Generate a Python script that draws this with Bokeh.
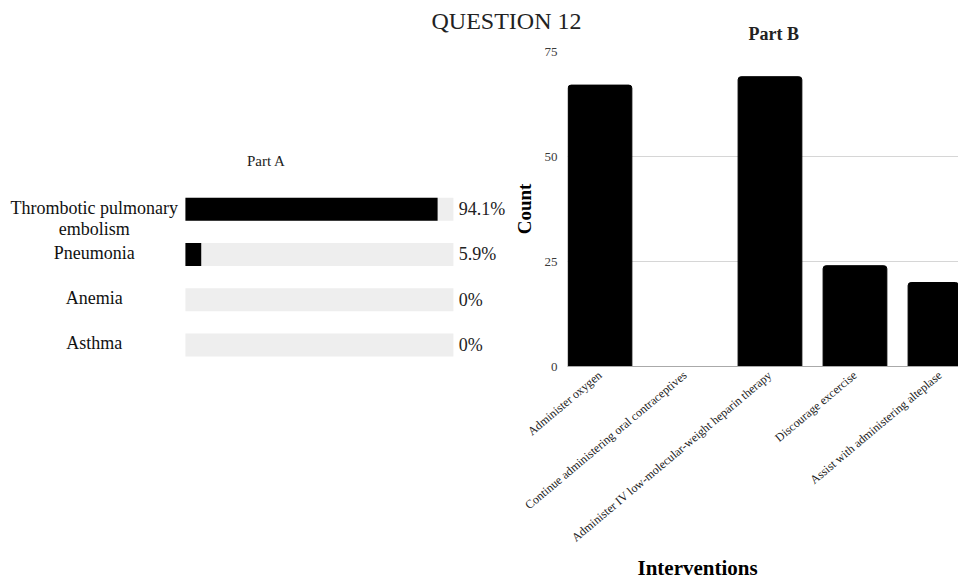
from bokeh.plotting import figure
from bokeh.models import Range1d, FixedTicker, Title, GridBox
from bokeh.core.properties import value
from bokeh.embed import file_html
from bokeh.resources import INLINE

FONT = "Liberation Serif"

# ---------------- data ----------------
title_text = "QUESTION 12"

partA_title = "Part A"
partA_categories = ["Thrombotic pulmonary\nembolism", "Pneumonia", "Anemia", "Asthma"]
partA_percent = [94.1, 5.9, 0, 0]

partB_title = "Part B"
partB_categories = [
    "Administer oxygen",
    "Continue administering oral contraceptives",
    "Administer IV low-molecular-weight heparin therapy",
    "Discourage excercise",
    "Assist with administering alteplase",
]
partB_counts = [67, 0, 69, 24, 20]
partB_yticks = [0, 25, 50, 75]
partB_xlabel = "Interventions"
partB_ylabel = "Count"

W, H = 958, 584
FRAME_TOP, FRAME_BOTTOM = 51, 366

# ---------------- Part A ----------------
A_W = 510
row_ids = list(range(len(partA_categories)))
bar_h = 0.51
pa = figure(width=A_W, height=H, output_backend="svg", toolbar_location=None,
            x_range=Range1d(-69.0, 121.3), y_range=Range1d(3.476, -3.485),
            min_border_left=0, min_border_right=0,
            min_border_top=FRAME_TOP, min_border_bottom=H - FRAME_BOTTOM,
            outline_line_color=None)
pa.axis.visible = False
pa.grid.visible = False
pa.hbar(y=row_ids, left=0, right=[100] * len(row_ids), height=bar_h,
        fill_color="#eeeeee", line_color=None)
pa.hbar(y=row_ids, left=0, right=partA_percent, height=bar_h,
        fill_color="#000000", line_color=None)
pa.text(x=[-34] * len(row_ids), y=[r - bar_h / 2 for r in row_ids], text=partA_categories,
        text_font=value(FONT), text_font_size="18px", text_align="center",
        text_baseline="top", text_color="#111111", text_line_height=1.05)
pa.text(x=[102] * len(row_ids), y=row_ids, text=["%g%%" % v for v in partA_percent],
        text_font=value(FONT), text_font_size="18px", text_align="left",
        text_baseline="middle", text_color="#222222")
pa.text(x=[30.2], y=[-1.076], text=[partA_title], text_font=value(FONT),
        text_font_size="15px", text_align="center", text_baseline="middle",
        text_color="#222222")

# ---------------- Part B ----------------
B_W = W - A_W
idx = list(range(len(partB_categories)))
pb = figure(width=B_W, height=H, output_backend="svg", toolbar_location=None,
            x_range=Range1d(-0.382, 4.218), y_range=Range1d(0, 75),
            min_border_left=57, min_border_right=0,
            min_border_top=FRAME_TOP, min_border_bottom=H - FRAME_BOTTOM,
            outline_line_color=None)
pb.title.text = partB_title
pb.title.text_font = FONT
pb.title.text_font_size = "18px"
pb.title.text_font_style = "bold"
pb.title.text_color = "#222222"
pb.title.align = "left"
pb.title.offset = 181
pb.title.standoff = 16

pb.vbar(x=idx, top=partB_counts, width=0.75, fill_color="#000000",
        line_color="#000000", border_radius={"top_left": 3, "top_right": 3})

for ax in (pb.xaxis, pb.yaxis):
    ax.major_tick_line_color = None
    ax.minor_tick_line_color = None
    ax.major_tick_out = 0
    ax.major_tick_in = 0
    ax.minor_tick_out = 0
    ax.minor_tick_in = 0

pb.xaxis.ticker = FixedTicker(ticks=idx)
pb.xaxis.major_label_overrides = {i: c for i, c in zip(idx, partB_categories)}
pb.xaxis.major_label_orientation = 0.70
pb.xaxis.major_label_text_font = FONT
pb.xaxis.major_label_text_font_size = "12px"
pb.xaxis.major_label_text_color = "#222222"
pb.xaxis.major_label_standoff = 7
pb.xaxis.axis_line_color = "#aaaaaa"

pb.yaxis.ticker = FixedTicker(ticks=partB_yticks)
pb.yaxis.major_label_text_font = FONT
pb.yaxis.major_label_text_font_size = "13px"
pb.yaxis.major_label_text_color = "#3a3a3a"
pb.yaxis.major_label_standoff = 10
pb.yaxis.axis_line_color = None
pb.yaxis.axis_label = partB_ylabel
pb.yaxis.axis_label_text_font = FONT
pb.yaxis.axis_label_text_font_size = "19px"
pb.yaxis.axis_label_text_font_style = "bold"
pb.yaxis.axis_label_text_color = "#000000"
pb.yaxis.axis_label_standoff = 7

pb.xgrid.visible = False
pb.ygrid.grid_line_color = "#d6d6d6"

pb.add_layout(Title(text=partB_xlabel, text_font=FONT, text_font_size="21px",
                    text_font_style="bold", text_color="#000000", align="left",
                    offset=70, standoff=2), "below")

main = GridBox(children=[(pa, 0, 0), (pb, 0, 1)], spacing=0)

# ---------------- overall title: separate transparent root laid over the top ----------------
TOP_H = 40
pt = figure(width=W, height=TOP_H, output_backend="svg", toolbar_location=None,
            x_range=Range1d(0, W), y_range=Range1d(0, TOP_H), min_border=0,
            outline_line_color=None, background_fill_color=None,
            border_fill_color=None,
            styles={"position": "absolute", "top": "0px", "left": "0px"})
pt.axis.visible = False
pt.grid.visible = False
pt.text(x=[431], y=[TOP_H - 20], text=[title_text], text_font=value(FONT),
        text_font_size="24px", text_align="left", text_baseline="middle",
        text_color="#222222")

open("out.html", "w").write(file_html([main, pt], INLINE))
